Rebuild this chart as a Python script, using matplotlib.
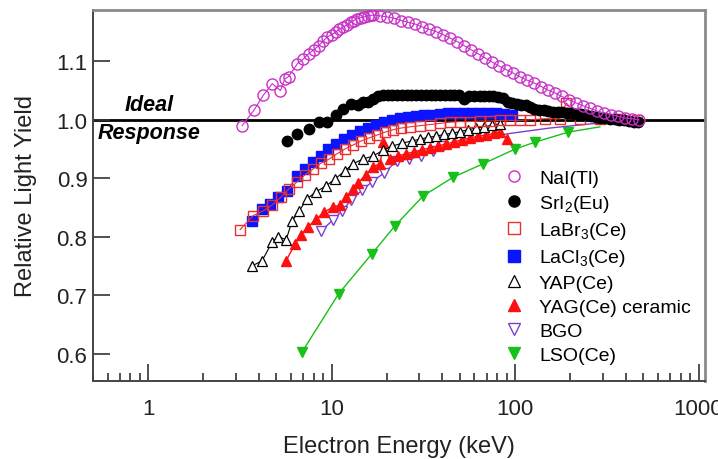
import matplotlib
matplotlib.use("Agg")
import matplotlib.pyplot as plt
import numpy as np

plt.rcParams['font.family'] = ['Liberation Sans', 'DejaVu Sans']
plt.rcParams['mathtext.fontset'] = 'custom'
plt.rcParams['mathtext.rm'] = 'Liberation Sans'
plt.rcParams['mathtext.it'] = 'Liberation Sans:italic'

# ---- data: electron energy (keV), relative light yield ----
nai_e = [3.25, 3.76, 4.24, 4.74, 5.26, 5.55, 5.82, 6.5, 7.0, 7.49, 8.0, 8.49, 9.0, 9.48,
         10.0, 10.5, 11.0, 11.6, 12.2, 12.7, 13.2, 13.8, 14.4, 15.0, 15.7, 16.3,
         16.9, 18.4, 20.1, 21.9, 23.9, 26.1, 28.5, 31.1, 34.0, 37.1, 40.5, 44.2, 48.3,
         52.7, 57.6, 62.9, 68.6, 74.9, 81.8, 89.3, 97.5, 106, 116, 127, 139, 151, 165,
         180, 197, 215, 235, 256, 280, 305, 333, 364, 397, 434, 474]
nai_ly = [0.990, 1.016, 1.042, 1.062, 1.050, 1.070, 1.074, 1.096, 1.104, 1.113, 1.120, 1.127,
          1.135, 1.142, 1.146, 1.150, 1.155, 1.159, 1.163, 1.167, 1.170, 1.173, 1.175, 1.176,
          1.178, 1.179, 1.179, 1.178, 1.176, 1.174, 1.170, 1.167, 1.164, 1.159, 1.155, 1.151,
          1.146, 1.140, 1.134, 1.127, 1.120, 1.113, 1.106, 1.099, 1.092, 1.086, 1.080, 1.074,
          1.068, 1.063, 1.057, 1.051, 1.046, 1.040, 1.034, 1.029, 1.024, 1.020, 1.015, 1.012,
          1.009, 1.006, 1.003, 1.002, 1.000]

sri_e = [5.73, 6.49, 7.52, 8.49, 9.48, 10.5, 11.6, 12.7, 13.9, 14.8, 15.7, 16.8, 17.8,
         19.0, 20.2, 21.4, 22.7, 24.1, 25.6, 27.2, 28.9, 30.7, 32.6, 34.6, 36.7, 39.0,
         41.4, 44.0, 46.7, 49.6, 53.0, 56.0, 60.0, 64.0, 68.0, 72.0, 76.0, 81.0, 86.0,
         91, 96, 102, 108, 114, 121, 127, 135, 143, 152, 161, 171, 181, 192, 204, 216,
         230, 244, 259, 275, 292, 310, 329, 349, 370, 393, 417, 443, 470]
sri_ly = [0.964, 0.976, 0.984, 0.997, 0.997, 1.009, 1.019, 1.027, 1.025, 1.030, 1.030,
          1.036, 1.041, 1.042, 1.043, 1.042, 1.043, 1.043, 1.042, 1.043, 1.043, 1.042,
          1.043, 1.043, 1.042, 1.043, 1.043, 1.042, 1.043, 1.042, 1.035, 1.041, 1.040,
          1.040, 1.041, 1.040, 1.040, 1.039, 1.038, 1.030, 1.028, 1.027, 1.026, 1.025,
          1.022, 1.018, 1.017, 1.016, 1.015, 1.014, 1.014, 1.013, 1.012, 1.011, 1.010,
          1.010, 1.009, 1.006, 1.005, 1.004, 1.003, 1.002, 1.001, 1.000, 0.999, 0.998,
          0.997, 0.996]

labr_e = [3.17, 3.73, 4.23, 4.73, 5.30, 5.86, 6.48, 7.17, 7.93, 8.77, 9.70, 10.7, 11.8,
          13.1, 14.5, 16.0, 17.7, 19.6, 21.6, 23.9, 26.7, 30.4, 34.4, 39.0, 44.3, 50.1,
          56.9, 64.5, 73.1, 82.8, 93.9, 106, 121, 145, 176, 190, 226, 290, 373, 461]
labr_ly = [0.812, 0.836, 0.844, 0.854, 0.868, 0.882, 0.894, 0.906, 0.916, 0.926, 0.933,
           0.942, 0.950, 0.957, 0.964, 0.969, 0.974, 0.979, 0.983, 0.986, 0.988, 0.990,
           0.992, 0.994, 0.996, 0.997, 0.997, 0.998, 0.998, 0.999, 0.999, 0.999, 1.000,
           1.002, 1.002, 1.029, 1.002, 1.002, 1.002, 1.000]

lacl_e = [3.69, 4.18, 4.62, 5.11, 5.71, 6.47, 7.16, 7.92, 8.76, 9.58, 10.6, 11.7, 12.9,
          14.3, 15.8, 17.5, 19.3, 21.3, 23.6, 26.1, 28.8, 31.9, 35.3, 39.0, 43.1, 47.7,
          52.7, 58.3, 64.5, 71.3, 78.8, 87.1, 96.3]
lacl_ly = [0.827, 0.848, 0.856, 0.868, 0.878, 0.904, 0.916, 0.928, 0.938, 0.950, 0.959,
           0.967, 0.974, 0.981, 0.986, 0.991, 0.996, 0.999, 1.003, 1.005, 1.007, 1.009,
           1.009, 1.010, 1.011, 1.012, 1.012, 1.012, 1.012, 1.012, 1.011, 1.010, 1.009]

yap_e = [3.69, 4.18, 4.74, 5.11, 5.65, 6.09, 6.65, 7.35, 8.23, 9.33, 10.45, 11.85, 13.1,
         14.85, 16.8, 19.1, 21.4, 24.2, 27.5, 30.4, 33.6, 37.1, 41.0, 45.4, 50.1, 55.4,
         61.3, 67.8, 74.9, 82.8]
yap_ly = [0.750, 0.759, 0.791, 0.800, 0.795, 0.827, 0.844, 0.865, 0.877, 0.887, 0.899,
          0.913, 0.925, 0.933, 0.938, 0.948, 0.955, 0.960, 0.964, 0.967, 0.970, 0.972,
          0.975, 0.977, 0.980, 0.983, 0.986, 0.988, 0.991, 0.993]

yag_e = [5.65, 6.33, 6.81, 7.44, 8.23, 9.10, 10.2, 11.1, 12.0, 13.1, 13.9, 15.4, 16.8,
         18.4, 19.1, 20.8, 23.0, 25.4, 28.1, 31.1, 34.4, 38.0, 42.0, 46.5, 51.4, 56.9,
         62.9, 69.5, 76.9, 82.8, 90.2]
yag_ly = [0.759, 0.788, 0.803, 0.817, 0.830, 0.842, 0.851, 0.854, 0.868, 0.882, 0.892,
          0.906, 0.920, 0.925, 0.962, 0.933, 0.938, 0.942, 0.945, 0.949, 0.952, 0.955,
          0.959, 0.962, 0.966, 0.969, 0.972, 0.974, 0.977, 0.979, 0.967]

bgo_e = [8.77, 10.2, 11.4, 12.8, 14.7, 16.6, 19.3, 22.7, 26.4, 30.7, 35.7, 40.5, 48.3,
         58.3, 71.3, 86.0, 106, 155, 256, 407]
bgo_ly = [0.810, 0.829, 0.844, 0.863, 0.880, 0.894, 0.909, 0.930, 0.933, 0.938, 0.947,
          0.955, 0.959, 0.965, 0.970, 0.975, 0.979, 0.986, 0.993, 0.998]

lso_e = [6.88, 10.9, 16.6, 22.2, 31.6, 46.1, 67.2, 100, 129, 195, 290]
lso_ly = [0.602, 0.702, 0.771, 0.819, 0.870, 0.902, 0.925, 0.950, 0.962, 0.979, 0.988]

labels = ['NaI(Tl)', 'SrI$_2$(Eu)', 'LaBr$_3$(Ce)', 'LaCl$_3$(Ce)', 'YAP(Ce)',
          'YAG(Ce) ceramic', 'BGO', 'LSO(Ce)']

fig = plt.figure(figsize=(7.18, 4.6), dpi=100)
ax = fig.add_axes([93 / 718, 1 - 382 / 460, 612 / 718, 371 / 460])

ax.axhline(1.0, color='black', lw=2.0, zorder=1)

# lines + markers, back to front
ax.plot(lso_e, lso_ly, '-', color='#19c019', lw=1.0, marker='v', ms=7.5,
        mfc='#19c019', mec='#19c019', markevery=slice(0, -1), zorder=2)
ax.plot(bgo_e, bgo_ly, '-', color='#7b3fd0', lw=1.0, marker='v', ms=7.5,
        mfc='white', mec='#7b3fd0', mew=1.0, markevery=slice(0, 12), zorder=2)
ax.plot(yag_e, yag_ly, '-', color='#ff1010', lw=1.0, marker='^', ms=7.5,
        mfc='#ff1010', mec='#ff1010', zorder=3)
ax.plot(yap_e, yap_ly, '-', color='black', lw=0.8, marker='^', ms=7.5,
        mfc='white', mec='black', mew=0.9, zorder=3)
ax.plot(lacl_e, lacl_ly, '-', color='#6040d0', lw=0.8, marker='s', ms=6.5,
        mfc='#0a14ff', mec='#0a14ff', zorder=4)
ax.plot(labr_e, labr_ly, '-', color='#e83030', lw=0.8, marker='s', ms=7,
        mfc='none', mec='#e83030', mew=1.0, zorder=4)
ax.plot(sri_e, sri_ly, 'o', ms=7.5, mfc='black', mec='black', zorder=5)
ax.plot(nai_e, nai_ly, '-', color='#c830c8', lw=0.8, marker='o', ms=8,
        mfc='none', mec='#c830c8', mew=1.0, zorder=6)

ax.text(0.74, 1.0265, 'Ideal', fontsize=15.5, fontweight='bold', fontstyle='italic',
        ha='left', va='center')
ax.text(0.527, 0.979, 'Response', fontsize=15.5, fontweight='bold', fontstyle='italic',
        ha='left', va='center')

# legend with marker-only proxies
h = []
h += ax.plot([], [], 'o', ms=8, mfc='none', mec='#c830c8', mew=1.0)
h += ax.plot([], [], 'o', ms=8, mfc='black', mec='black')
h += ax.plot([], [], 's', ms=8, mfc='none', mec='#e83030', mew=1.0)
h += ax.plot([], [], 's', ms=8, mfc='#0a14ff', mec='#0a14ff')
h += ax.plot([], [], '^', ms=8, mfc='none', mec='black', mew=0.9)
h += ax.plot([], [], '^', ms=8, mfc='#ff1010', mec='#ff1010')
h += ax.plot([], [], 'v', ms=8, mfc='none', mec='#7b3fd0', mew=1.0)
h += ax.plot([], [], 'v', ms=8, mfc='#19c019', mec='#19c019')
ax.legend(h, labels, loc='upper left', bbox_to_anchor=(0.6715, 0.571), frameon=False,
          fontsize=14, borderaxespad=0, borderpad=0, handlelength=1.0,
          handletextpad=0.8, labelspacing=0.32)

ax.set_xscale('log')
ax.set_xlim(0.5, 1085)
ax.set_ylim(0.553, 1.188)
ax.set_yticks([0.6, 0.7, 0.8, 0.9, 1.0, 1.1])
ax.set_yticklabels(['0.6', '0.7', '0.8', '0.9', '1.0', '1.1'])
ax.set_xticks([1, 10, 100, 1000])
ax.set_xticklabels(['1', '10', '100', '1000'])

ax.tick_params(axis='both', which='major', direction='in', length=12, width=1.2,
               colors='#333333', labelcolor='#222222', labelsize=16)
ax.tick_params(axis='x', which='minor', direction='in', length=6, width=1.2,
               colors='#333333')
ax.tick_params(axis='y', which='minor', left=False)
ax.tick_params(axis='x', pad=12)
ax.tick_params(axis='y', pad=4)

for s in ['left', 'bottom']:
    ax.spines[s].set_color('#444444')
    ax.spines[s].set_linewidth(1.4)
for s in ['top', 'right']:
    ax.spines[s].set_color('#8a8a8a')
    ax.spines[s].set_linewidth(2.0)

ax.set_xlabel('Electron Energy (keV)', fontsize=17, color='#222222', labelpad=12)
ax.set_ylabel('Relative Light Yield', fontsize=17, color='#222222', labelpad=14)

fig.savefig('out.png', dpi=100)
